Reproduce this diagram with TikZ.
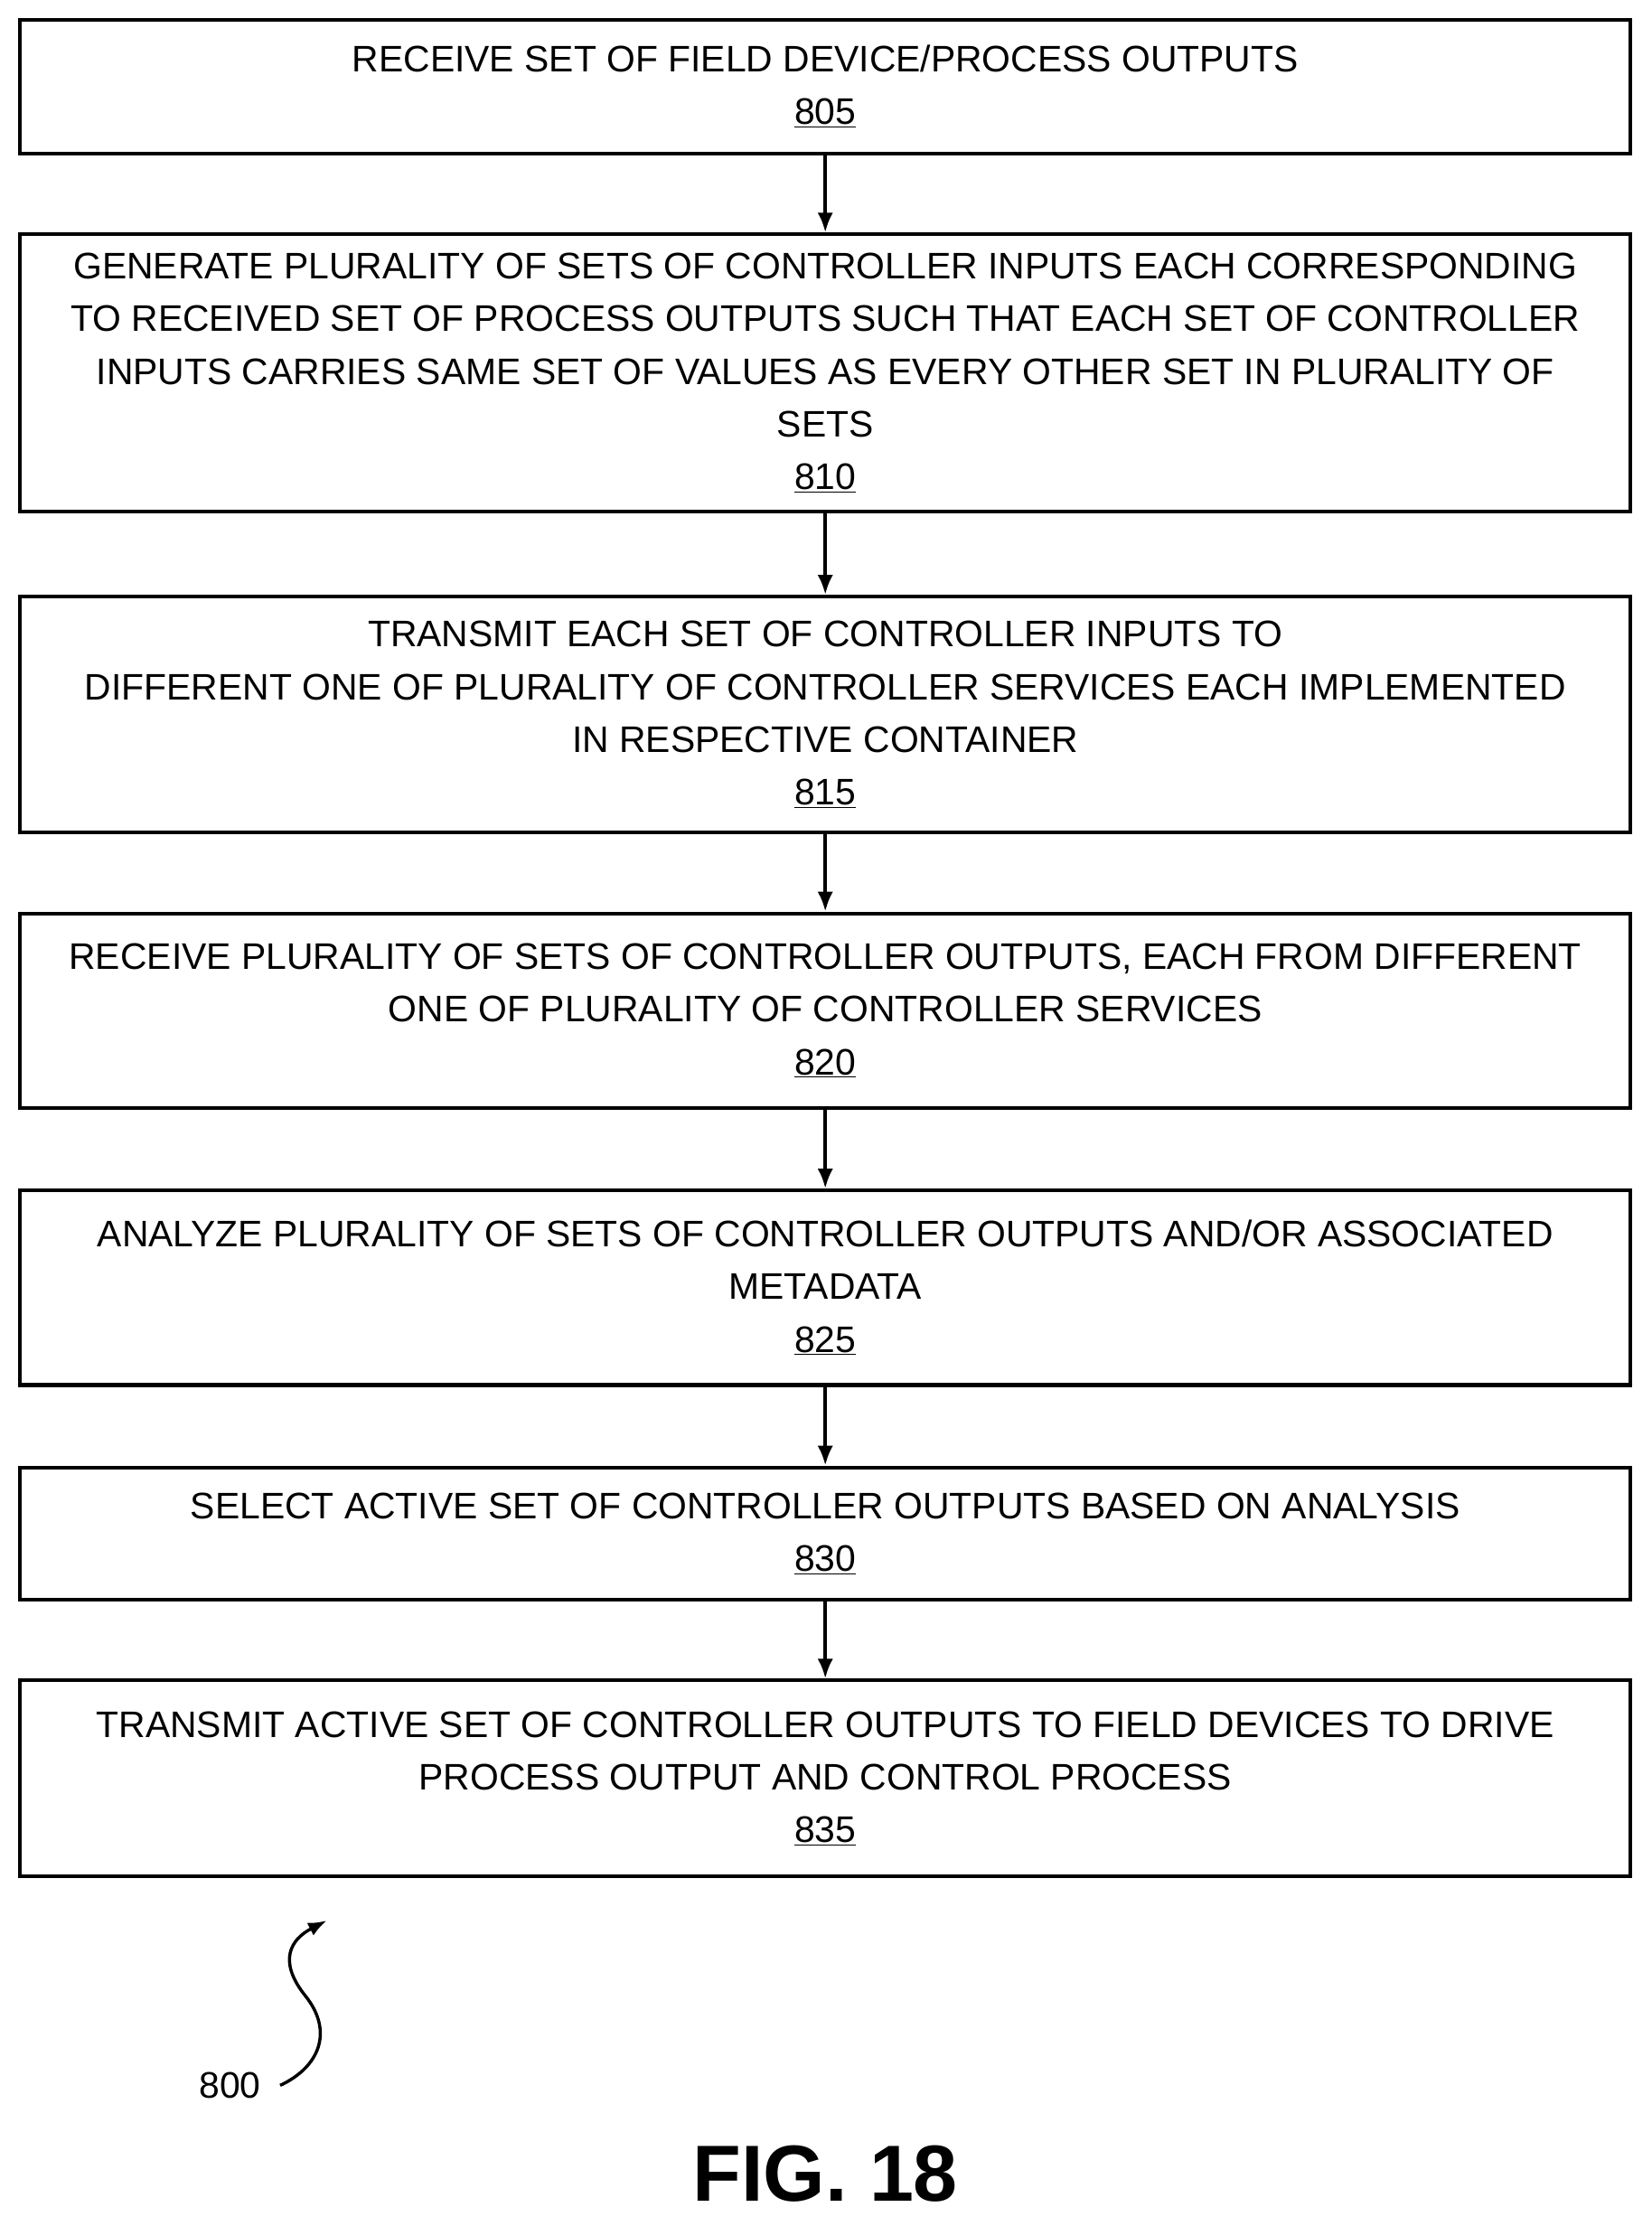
\documentclass[tikz,border=0pt]{standalone}
\usepackage{fontspec}
\setmainfont{Liberation Sans}
\usetikzlibrary{arrows.meta}
\tikzstyle{stepbox}=[draw, line width=2.6pt, minimum width=1134pt, align=center, inner sep=0pt,
  font=\fontsize{26}{37}\selectfont]
\tikzset{flow/.style={-{Latex[length=14pt,width=11pt]}, line width=2.6pt}}
\begin{document}
\begin{tikzpicture}[x=1pt,y=-1pt]
  \useasboundingbox (0,0) rectangle (1163,1567);
  \draw (581,61) node[stepbox,minimum height=94pt] (S805) {RECEIVE SET OF FIELD DEVICE/PROCESS OUTPUTS\\\underline{805}};
  \draw (581,262.5) node[stepbox,minimum height=195pt] (S810) {GENERATE PLURALITY OF SETS OF CONTROLLER INPUTS EACH CORRESPONDING\\TO RECEIVED SET OF PROCESS OUTPUTS SUCH THAT EACH SET OF CONTROLLER\\INPUTS CARRIES SAME SET OF VALUES AS EVERY OTHER SET IN PLURALITY OF\\SETS\\\underline{810}};
  \draw (581,503) node[stepbox,minimum height=166pt] (S815) {TRANSMIT EACH SET OF CONTROLLER INPUTS TO\\DIFFERENT ONE OF PLURALITY OF CONTROLLER SERVICES EACH IMPLEMENTED\\IN RESPECTIVE CONTAINER\\\underline{815}};
  \draw (581,711.5) node[stepbox,minimum height=137pt] (S820) {RECEIVE PLURALITY OF SETS OF CONTROLLER OUTPUTS, EACH FROM DIFFERENT\\ONE OF PLURALITY OF CONTROLLER SERVICES\\\underline{820}};
  \draw (581,906.5) node[stepbox,minimum height=137pt] (S825) {ANALYZE PLURALITY OF SETS OF CONTROLLER OUTPUTS AND/OR ASSOCIATED\\METADATA\\\underline{825}};
  \draw (581,1079.5) node[stepbox,minimum height=93pt] (S830) {SELECT ACTIVE SET OF CONTROLLER OUTPUTS BASED ON ANALYSIS\\\underline{830}};
  \draw (581,1252) node[stepbox,minimum height=138pt] (S835) {TRANSMIT ACTIVE SET OF CONTROLLER OUTPUTS TO FIELD DEVICES TO DRIVE\\PROCESS OUTPUT AND CONTROL PROCESS\\\underline{835}};

  \draw[flow] (S805) -- (S810);
  \draw[flow] (S810) -- (S815);
  \draw[flow] (S815) -- (S820);
  \draw[flow] (S820) -- (S825);
  \draw[flow] (S825) -- (S830);
  \draw[flow] (S830) -- (S835);

  %% Reference label
  \draw (162,1468) node[font=\fontsize{26}{30}\selectfont] (L800) {800};
  \coordinate (T800) at (230,1352);
  \draw[-{Latex[length=13pt,width=10pt]},line width=2.2pt] ([xshift=10pt]L800.east) .. controls (225,1455) and (235,1430) .. (215,1405) .. controls (195,1380) and (205,1365) .. (T800);
  \draw (581,1530) node[font=\bfseries\fontsize{56}{60}\selectfont] (fig) {FIG. 18};
\end{tikzpicture}
\end{document}
